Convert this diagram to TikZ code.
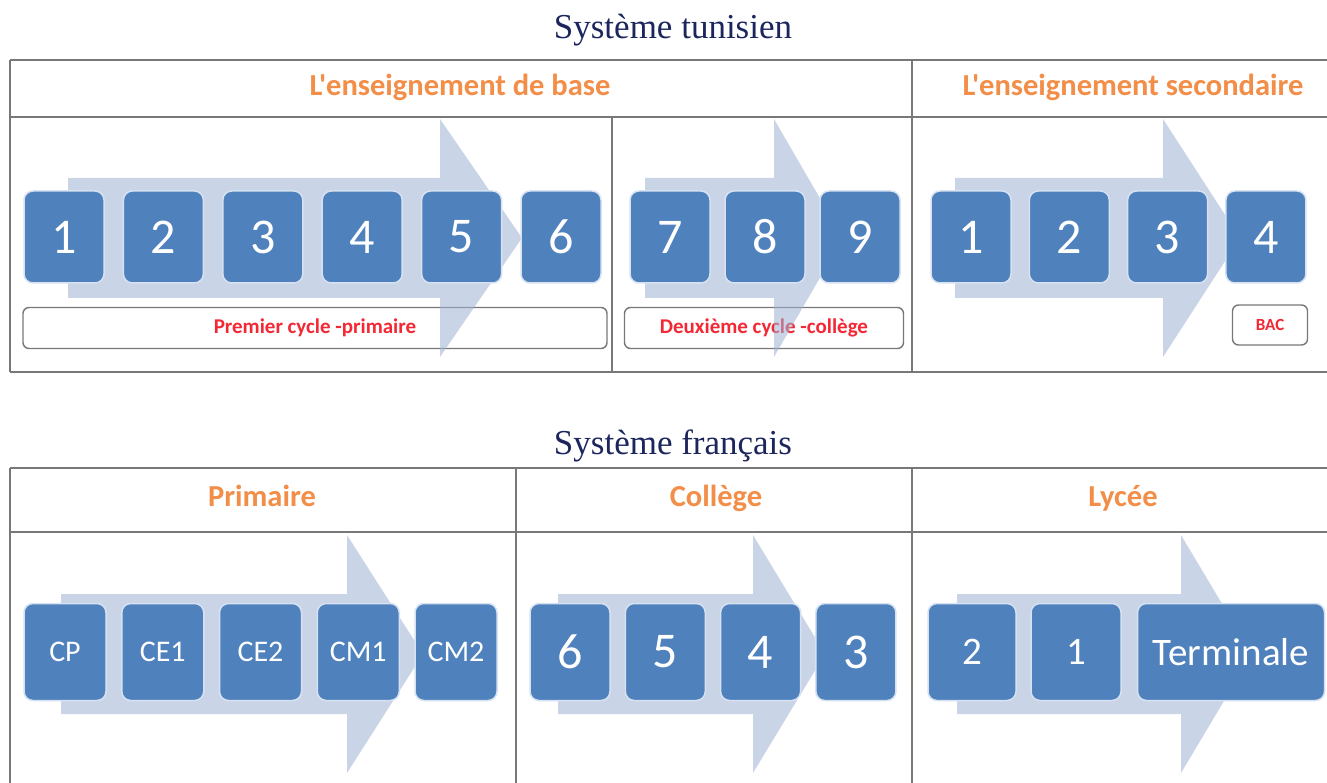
\documentclass[tikz,border=0pt]{standalone}
\usepackage{fontspec}
\setmainfont{Liberation Serif}
\newfontfamily\calib{Carlito}
\usetikzlibrary{positioning}

\definecolor{boxblue}{RGB}{79,129,189}
\definecolor{boxrim}{RGB}{214,226,242}
\definecolor{flowblue}{RGB}{160,178,212}
\definecolor{headorange}{RGB}{242,142,72}
\definecolor{labelred}{RGB}{244,40,52}
\definecolor{titlenavy}{RGB}{28,38,92}
\definecolor{rulegrey}{RGB}{120,120,120}

\begin{document}
\begin{tikzpicture}[x=1pt, y=-1pt,
    rule/.style={draw=rulegrey, line width=1.6pt},
    flow/.style={fill=flowblue, fill opacity=0.55},
    grade/.style={rectangle, rounded corners=9pt, fill=boxblue, draw=boxrim, line width=1.5pt,
      minimum width=80pt, minimum height=92pt, inner sep=0pt, text=white,
      font=\calib\fontsize{50}{54}\selectfont},
    classe/.style={grade, minimum height=97pt, font=\calib\fontsize{30}{34}\selectfont},
    cycle/.style={rectangle, rounded corners=6pt, draw=rulegrey, line width=1.4pt, fill=white,
      minimum height=41pt, inner sep=0pt, text=labelred, font=\calib\bfseries\fontsize{21}{24}\selectfont},
    header/.style={text=headorange, text height=0.72em, text depth=0.22em,
      font=\calib\bfseries\fontsize{30.5}{34}\selectfont},
    titre/.style={text=titlenavy, font=\fontsize{35}{40}\selectfont}]

  \useasboundingbox (0,0) rectangle (1327,783);
  \fill[white] (0,0) rectangle (1327,783);
  \clip (0,0) rectangle (1327,783);

  % Titles
  \node[titre] (tunisie) at (673,30) {Système tunisien};
  \node[titre] (france) at (673,446) {Système français};

  % Tables
  \draw[rule] (10,60) -- (1340,60) (10,117) -- (1340,117) (10,372) -- (1340,372)
    (10,60) -- (10,372) (912,60) -- (912,372) (612,117) -- (612,372);
  \draw[rule] (10,468) -- (1340,468) (10,532) -- (1340,532)
    (10,468) -- (10,790) (516,468) -- (516,790) (912,468) -- (912,790);

  % Headers
  \node[header] (hbase) at (460,93) {L'enseignement de base};
  \node[header] (hsec) at (1133,93) {L'enseignement secondaire};
  \node[header] (hprim) at (262,504) {Primaire};
  \node[header] (hcol) at (716,504) {Collège};
  \node[header] (hlyc) at (1123,504) {Lycée};

  % Cycles
  \node[cycle, minimum width=584pt] (premier) at (315,328) {Premier cycle -primaire};
  \node[cycle, minimum width=279pt] (deuxieme) at (764,328) {Deuxième cycle -collège};
  \node[cycle, minimum width=75pt, minimum height=40pt, font=\calib\bfseries\fontsize{17}{20}\selectfont] (bac) at (1270,325) {BAC};

  % Big arrows
  \foreach \xa/\xb/\xc/\yc in {68/440/522/238, 645/774/843/238, 955/1163/1240/238,
                                61/347/423/654, 558/753/825/654, 957/1181/1252/654}
  \fill[flow] (\xa,\yc-60) -- (\xb,\yc-60) -- (\xb,\yc-119) -- (\xc,\yc)
    -- (\xb,\yc+119) -- (\xb,\yc+60) -- (\xa,\yc+60) -- cycle;

  % Years, Tunisia
  \foreach \i in {1,...,6}
  \node[grade] (base\i) at ({64+99.4*(\i-1)},237) {\i};
  \foreach \i [count=\k] in {7,8,9}
  \node[grade] (base\i) at ({670+95*(\k-1)},237) {\i};
  \foreach \i in {1,...,4}
  \node[grade] (sec\i) at ({971+98.3*(\i-1)},237) {\i};

  % Years, France
  \foreach \n [count=\k] in {CP,CE1,CE2,CM1,CM2}
  \node[classe, minimum width=82pt] (prim\k) at ({65+97.75*(\k-1)},652) {\n};
  \foreach \n [count=\k] in {6,5,4,3}
  \node[classe, minimum width=80pt, font=\calib\fontsize{50}{54}\selectfont] (col\k) at ({570+95.3*(\k-1)},652) {\n};
  \node[classe, minimum width=88pt, font=\calib\fontsize{39}{43}\selectfont] (lyc1) at (972,652) {2};
  \node[classe, minimum width=90pt, font=\calib\fontsize{39}{43}\selectfont] (lyc2) at (1076,652) {1};
  \node[classe, minimum width=187pt, font=\calib\fontsize{39}{43}\selectfont] (lyc3) at (1231,652) {Terminale};
\end{tikzpicture}
\end{document}
